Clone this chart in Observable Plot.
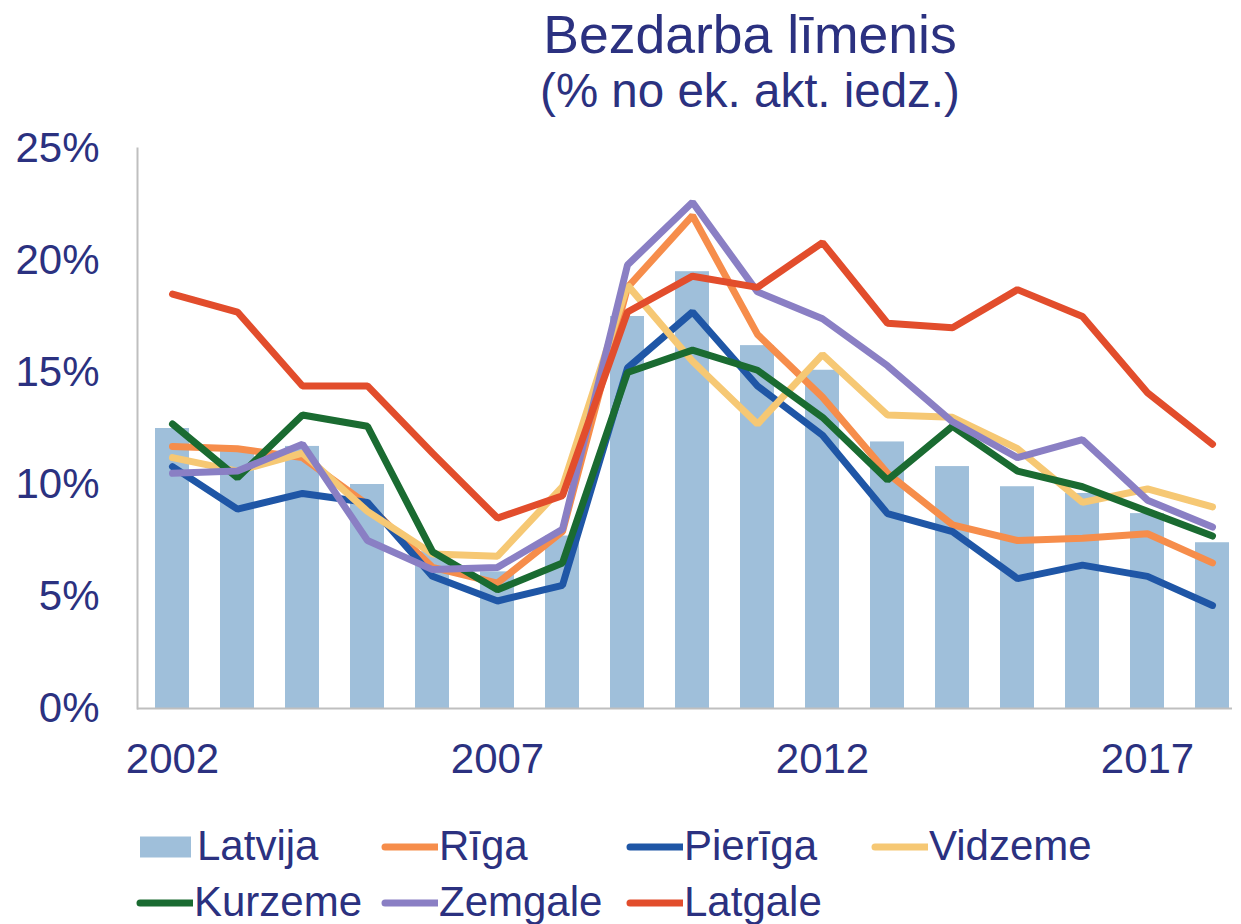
<!DOCTYPE html>
<html>
<head>
<meta charset="utf-8">
<script src="https://cdn.jsdelivr.net/npm/d3@7"></script>
<script src="https://cdn.jsdelivr.net/npm/@observablehq/plot@0.6"></script>
<style>
  html, body { margin: 0; padding: 0; background: #fff; }
  #wrap { position: relative; width: 1241px; height: 924px; overflow: hidden;
          font-family: "Liberation Sans", Arial, sans-serif; color: #2b3180; }
  .title { position: absolute; left: 750px; transform: translateX(-50%); white-space: nowrap; line-height: 1; }
  #chart { position: absolute; left: 0; top: 120px; }
  .leg { position: absolute; font-size: 42px; line-height: 1; white-space: nowrap; }
  .sw { position: absolute; }
</style>
</head>
<body>
<div id="wrap">
  <div class="title" style="top:8px;font-size:53.5px;">Bezdarba līmenis</div>
  <div class="title" style="top:67px;font-size:47.5px;">(% no ek. akt. iedz.)</div>
  <div id="chart"></div>
  <div id="legend"></div>
</div>
<script>
// ---- data ----
const years = [2002, 2003, 2004, 2005, 2006, 2007, 2008, 2009, 2010, 2011, 2012, 2013, 2014, 2015, 2016, 2017, 2018];
const xTickLabels = [2002, 2007, 2012, 2017];
const yTicks = [0, 5, 10, 15, 20, 25];
const latvija = [12.5, 11.6, 11.7, 10.0, 7.0, 6.1, 7.7, 17.5, 19.5, 16.2, 15.1, 11.9, 10.8, 9.9, 9.6, 8.7, 7.4];
const riga    = [11.7, 11.6, 11.2, 9.1, 6.3, 5.6, 7.9, 18.8, 22.0, 16.7, 13.9, 10.5, 8.2, 7.5, 7.6, 7.8, 6.5];
const pieriga = [10.8, 8.9, 9.6, 9.2, 5.9, 4.8, 5.5, 15.2, 17.7, 14.4, 12.2, 8.7, 7.9, 5.8, 6.4, 5.9, 4.6];
const vidzeme = [11.2, 10.6, 11.4, 8.8, 6.9, 6.8, 9.9, 18.9, 15.5, 12.7, 15.8, 13.1, 13.0, 11.6, 9.2, 9.8, 9.0];
const kurzeme = [12.7, 10.3, 13.1, 12.6, 7.0, 5.3, 6.5, 15.0, 16.0, 15.1, 13.0, 10.2, 12.6, 10.6, 9.9, 8.8, 7.7];
const zemgale = [10.5, 10.6, 11.8, 7.5, 6.2, 6.3, 8.0, 19.8, 22.6, 18.6, 17.4, 15.3, 12.8, 11.2, 12.0, 9.3, 8.1];
const latgale = [18.5, 17.7, 14.4, 14.4, 11.4, 8.5, 9.5, 17.7, 19.3, 18.8, 20.8, 17.2, 17.0, 18.7, 17.5, 14.1, 11.8];
const barName = "Latvija";
const lineNames = ["Rīga", "Pierīga", "Vidzeme", "Kurzeme", "Zemgale", "Latgale"];
const lineValues = [riga, pieriga, vidzeme, kurzeme, zemgale, latgale];

// ---- styles ----
const navy = "#2b3180";
const barColor = "#9fbfda";
const lineColors = ["#f68d4b", "#1f56a6", "#f6c874", "#1a6b31", "#8a7fc4", "#e24d2c"];
const axisGray = "#bfbfbf";

const barData = years.map((year, i) => ({year, value: latvija[i]}));
const lineData = lineNames.flatMap((name, k) => years.map((year, i) => ({year, value: lineValues[k][i], name})));

const chart = Plot.plot({
  width: 1241,
  height: 680,
  marginTop: 28,
  marginBottom: 92,
  marginLeft: 137,
  marginRight: 9,
  style: {fontFamily: "'Liberation Sans', Arial, sans-serif", fontSize: "42px", color: navy, background: "transparent", overflow: "visible"},
  x: {type: "band", domain: years, range: [137, 1248], paddingInner: 0.47, paddingOuter: 0.255},
  y: {domain: [0, 25]},
  color: {domain: lineNames, range: lineColors},
  marks: [
    Plot.barY(barData, {x: "year", y: "value", fill: barColor}),
    Plot.line(lineData, {x: "year", y: "value", z: "name", stroke: "name", strokeWidth: 7, strokeLinejoin: "miter", strokeLinecap: "round"}),
    Plot.ruleY([0], {stroke: axisGray, strokeWidth: 2}),
    Plot.frame({anchor: "left", stroke: axisGray, strokeWidth: 2}),
    Plot.axisX({ticks: xTickLabels, tickSize: 0, tickPadding: 35, tickFormat: d => String(d), fill: navy, fontSize: 42, label: null}),
    Plot.axisY({ticks: yTicks, tickSize: 0, tickPadding: 38, tickFormat: d => d + "%", fill: navy, fontSize: 42, label: null})
  ]
});
document.getElementById("chart").appendChild(chart);

// ---- legend ----
const legendItems = [
  {name: barName, kind: "bar", color: barColor},
  ...lineNames.map((name, k) => ({name, kind: "line", color: lineColors[k]}))
];
const legendSlots = [
  [140, 0], [382, 0], [627, 0], [872, 0],
  [137, 1], [382, 1], [627, 1]
];
const legend = document.getElementById("legend");
legendItems.forEach((item, i) => {
  const [x, row] = legendSlots[i];
  const cy = 847 + row * 56;
  const sw = document.createElementNS("http://www.w3.org/2000/svg", "svg");
  sw.setAttribute("class", "sw");
  sw.setAttribute("width", 60);
  sw.setAttribute("height", 30);
  sw.style.left = (x - 4) + "px";
  sw.style.top = (cy - 15) + "px";
  if (item.kind === "bar") {
    sw.innerHTML = `<rect x="4" y="4.5" width="51" height="21" fill="${item.color}"/>`;
  } else {
    sw.innerHTML = `<line x1="7" y1="15" x2="59" y2="15" stroke="${item.color}" stroke-width="7" stroke-linecap="round"/>`;
  }
  legend.appendChild(sw);
  const t = document.createElement("div");
  t.className = "leg";
  t.textContent = item.name;
  t.style.left = (x + 57) + "px";
  t.style.top = (cy + 13 - 35.5) + "px";
  legend.appendChild(t);
});
</script>
</body>
</html>
